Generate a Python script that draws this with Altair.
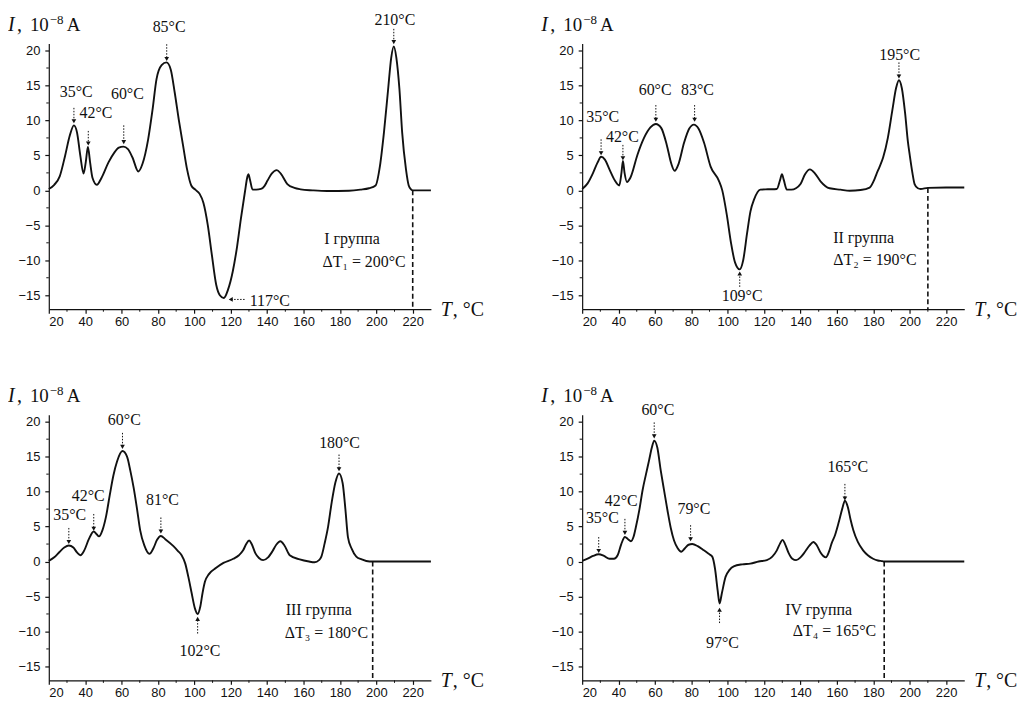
import altair as alt
import pandas as pd

# ---------------- data ----------------
T1 = [20, 23, 26, 29, 31.5, 33.8, 35.5, 37.3, 39.1, 40.3, 41.5, 42.7, 44, 46.4, 49, 52.8, 56, 58.5, 61, 63.5,
      66, 69.2, 71.5, 74.6, 77, 79.2, 82, 84.7, 87, 89.2, 91.5, 93.8, 96, 98.3, 100.5, 102.9, 105, 107.4,
      109.5, 112, 114, 116.2, 118.5, 121.1, 123.5, 125.6, 127.8, 129.2, 129.7, 130.5, 132, 134, 136.6, 138.5,
      140.2, 142.5, 145.3, 147.5, 151.1, 155, 158.4, 165, 173, 185, 191.2, 196, 199.6, 202, 204.2, 206.5,
      208.2, 209.6, 211, 212.7, 214.2, 216.3, 217.8, 219.2, 220, 225, 230]
I1 = [0.2, 0.8, 2.0, 5.0, 7.8, 9.3, 8.3, 5.0, 2.4, 4.0, 6.2, 4.0, 1.8, 0.8, 1.8, 4.0, 5.4, 6.1, 6.25, 5.9,
      4.7, 2.7, 3.8, 7.3, 11.5, 15.9, 17.9, 18.3, 17.3, 14.0, 10.0, 6.4, 3.0, 0.7, 0.1, -0.5, -1.8, -5.0,
      -9.0, -13.5, -15.0, -15.4, -14.2, -11.6, -8.0, -4.0, -0.2, 2.0, 2.3, 1.6, 0.1, 0.1, 0.2, 0.6,
      1.4, 2.4, 2.9, 2.4, 0.9, 0.35, 0.15, 0.0, -0.1, -0.05, 0.1, 0.3, 0.7, 3.5, 8.3, 14.5,
      19.0, 20.6, 19.0, 14.5, 8.3, 3.0, 0.7, 0.1, 0.0, 0.0, 0.0]

T2 = [20, 23, 26, 28.5, 30.4, 32.5, 35, 38, 40.4, 41.6, 42.4, 43.3, 44.6, 46.5, 50.4, 54, 57.5, 60.5, 63.5,
      66.5, 69, 70.8, 73, 76, 78.8, 81.4, 84, 87, 90.6, 95.1, 97, 99.5, 101.8, 104, 106.6, 108.5, 110.6,
      112.5, 114.5, 117.9, 122, 127, 128.8, 129.8, 130.8, 132.5, 135, 137.5, 140, 142.5, 145.2, 148, 151,
      156, 162, 167, 173, 178, 180.5, 181.7, 183.5, 185.4, 188, 190.5, 192.5, 194.1, 195.7, 197.5, 199,
      200, 201.5, 202.7, 204.5, 206, 210, 220, 230]
I2 = [0.2, 1.0, 2.5, 4.0, 4.8, 4.4, 3.0, 1.4, 0.7, 2.5, 4.2, 2.5, 1.2, 1.8, 5.1, 7.5, 9.0, 9.5, 8.9,
      6.5, 3.8, 2.8, 3.8, 6.8, 8.8, 9.4, 8.8, 6.8, 3.4, 1.4, 0.0, -3.5, -7.5, -10.3, -11.3, -10.0, -6.2,
      -3.0, -1.3, 0.1, 0.15, 0.2, 1.5, 2.3, 1.5, 0.1, 0.1, 0.3, 0.9, 2.3, 3.0, 2.4, 1.3,
      0.3, 0.1, -0.05, 0.05, 0.4, 1.5, 2.3, 3.4, 4.7, 7.5, 11.5, 14.6, 15.75, 14.6, 11.0, 7.0,
      5.1, 2.5, 0.9, 0.3, 0.2, 0.35, 0.4, 0.4]

T3 = [20, 23, 26, 28.5, 31, 33.5, 35.5, 37.4, 39.5, 42, 44.7, 46.3, 47.6, 49.5, 51.5, 53.5, 55.5, 57.5,
      60.5, 63, 64.8, 66.6, 68.5, 70.2, 72.5, 75.3, 77.5, 79.5, 81.6, 84, 88.5, 91, 93, 95, 96.7, 98.5,
      100.3, 101.8, 103.3, 104.5, 105.8, 108, 112, 116, 121.4, 124.5, 126.8, 128.5, 130.1, 131.5, 133.5,
      135.5, 137.8, 140.5, 143, 145, 147.3, 149.5, 152.4, 157.9, 163, 166.1, 168.5, 169.8, 171.6, 173.5,
      175.5, 177.5, 179.5, 181.5, 183, 184.4, 186.5, 189, 192, 196.3, 200, 230]
I3 = [0.1, 0.6, 1.4, 2.0, 2.3, 2.0, 1.3, 0.9, 1.6, 3.2, 4.3, 3.9, 3.6, 4.5, 6.5, 9.5, 12.3, 14.3,
      15.8, 15.0, 13.0, 10.6, 7.5, 4.5, 2.3, 1.1, 1.9, 3.1, 3.65, 3.2, 2.2, 1.5, 0.9, -0.3, -2.2, -4.5,
      -6.7, -7.5, -6.4, -4.5, -2.9, -1.8, -0.9, -0.2, 0.4, 0.9, 1.6, 2.5, 3.0, 2.5, 1.2,
      0.5, 0.2, 0.6, 1.5, 2.4, 2.9, 2.3, 0.9, 0.3, 0.0, -0.1, 0.2, 0.7, 2.6, 5.0,
      8.5, 11.3, 12.6, 11.2, 7.5, 3.5, 1.8, 0.7, 0.3, 0.0, 0.0, 0.0]

T4 = [20, 23, 26, 29.1, 32, 35, 37.5, 39.5, 41.5, 43.5, 45.2, 46.8, 48.2, 49.5, 51.5, 53.2, 55, 56.8, 58.3,
      59.6, 61.3, 63.2, 65, 66.9, 68.7, 70.5, 72.5, 74.5, 76.5, 78.5, 80.5, 83.5, 86.9, 89.5, 91.5, 93,
      94.5, 95.5, 96.8, 98.8, 101, 103.3, 108, 112.4, 117, 121.5, 124.5, 127, 128.8, 130.1, 131.5, 133.5,
      135.5, 137.6, 140, 142.5, 145, 147.1, 149, 151, 152.5, 154, 155.5, 157.1, 159, 161, 163, 164.4, 166,
      167.5, 169, 171.5, 174.4, 177, 179.9, 182.5, 185, 186, 230]
I4 = [0.1, 0.4, 0.8, 1.05, 0.8, 0.4, 0.4, 0.9, 2.5, 3.5, 3.2, 2.9, 3.5, 4.9, 7.5, 10.2, 12.4, 14.5, 16.3,
      17.3, 16.3, 13.0, 10.2, 7.3, 4.8, 3.0, 1.9, 1.4, 1.9, 2.4, 2.5, 2.2, 1.6, 1.1, 0.7, -1.0,
      -4.2, -6.0, -4.5, -2.2, -1.2, -0.7, -0.4, -0.3, 0.0, 0.2, 0.7, 1.6, 2.6, 3.1, 2.5, 1.2,
      0.4, 0.2, 0.6, 1.4, 2.3, 2.8, 2.3, 1.3, 0.8, 0.6, 1.3, 2.6, 3.8, 5.6, 7.6, 8.7, 7.8,
      6.0, 4.5, 2.8, 1.6, 0.9, 0.4, 0.15, 0.05, 0.0, 0.0]

# end of measurement (dashed line)
END_T = [220, 210, 198, 186]
END_I = [0.0, 0.35, 0.0, 0.0]

# peak labels (centered): text, x, y(baseline)
LAB_TEXT = [
    ["35°C", "42°C", "60°C", "85°C", "210°C"],
    ["35°C", "42°C", "60°C", "83°C", "195°C", "109°C"],
    ["35°C", "42°C", "60°C", "81°C", "180°C", "102°C"],
    ["35°C", "42°C", "60°C", "79°C", "165°C", "97°C"],
]
LAB_X = [
    [35.1, 45.9, 63.2, 86.1, 210.2],
    [31.3, 42.1, 60.1, 83.4, 194.5, 107.9],
    [31.5, 41.7, 61.5, 82.5, 179.8, 103.1],
    [31.1, 41.5, 61.6, 81.4, 166.0, 97.1],
]
LAB_Y = [
    [13.4, 10.3, 13.1, 22.7, 23.7],
    [9.8, 6.9, 13.7, 13.7, 18.7, -15.8],
    [5.9, 8.7, 19.5, 8.1, 16.3, -13.5],
    [5.5, 8.0, 21.0, 6.75, 12.8, -12.4],
]

# arrows: start (x, y) -> tip (x2, y2)
ARR_X = [
    [33.8, 41.7, 61.2, 84.8, 209.6, 127.6],
    [30.4, 42.4, 60.5, 81.8, 194.1, 106.6],
    [31.0, 44.7, 60.5, 81.6, 179.5, 101.8],
    [29.1, 43.5, 59.6, 79.6, 164.4, 95.5],
]
ARR_Y = [
    [11.8, 8.5, 9.3, 20.9, 23.1, -15.6],
    [7.3, 6.5, 12.2, 12.2, 18.3, -13.8],
    [4.8, 6.8, 18.4, 6.3, 15.3, -10.3],
    [3.5, 6.1, 19.9, 5.2, 11.1, -8.8],
]
ARR_X2 = [
    [33.8, 41.7, 61.2, 84.8, 209.6, 120.0],
    [30.4, 42.4, 60.5, 81.8, 194.1, 106.6],
    [31.0, 44.7, 60.5, 81.6, 179.5, 101.8],
    [29.1, 43.5, 59.6, 79.6, 164.4, 95.5],
]
ARR_Y2 = [
    [9.9, 6.7, 6.9, 18.8, 21.2, -15.6],
    [5.3, 4.6, 10.1, 10.1, 16.3, -11.9],
    [2.8, 4.7, 16.4, 4.3, 13.2, -8.2],
    [1.5, 4.1, 17.9, 3.2, 9.0, -6.9],
]
ARR_DIR = [
    ["triangle-down"] * 5 + ["triangle-left"],
    ["triangle-down"] * 5 + ["triangle-up"],
    ["triangle-down"] * 5 + ["triangle-up"],
    ["triangle-down"] * 5 + ["triangle-up"],
]

# left-aligned texts: group name and ΔT
GROUP_TEXT = [
    ["117°C", "I группа", "ΔT₁ = 200°C"],
    ["II группа", "ΔT₂ = 190°C"],
    ["III группа", "ΔT₃ = 180°C"],
    ["IV группа", "ΔT₄ = 165°C"],
]
GROUP_X = [
    [130.4, 171.4, 170.4],
    [158.0, 158.0],
    [150.2, 149.7],
    [131.6, 135.8],
]
GROUP_Y = [
    [-16.5, -7.6, -10.9],
    [-7.5, -10.7],
    [-7.6, -10.9],
    [-7.6, -10.6],
]

XTICKS = [20, 40, 60, 80, 100, 120, 140, 160, 180, 200, 220]
XMINOR = [30, 50, 70, 90, 110, 130, 150, 170, 190, 210]
YTICKS = [-15, -10, -5, 0, 5, 10, 15, 20]
YMINOR = [-12.5, -7.5, -2.5, 2.5, 7.5, 12.5, 17.5]

# ---------------- chart ----------------
W, H = 384, 267
SERIF = "Liberation Serif"
SANS = "Liberation Sans"
INK = "#111111"


def xs():
    return alt.Scale(domain=[20, 230], nice=False, zero=False)


def ys():
    return alt.Scale(domain=[-17, 21], nice=False, zero=False)


def xax():
    return alt.Axis(values=XTICKS, title=None, format="d", labelPadding=2)


def yax():
    return alt.Axis(values=YTICKS, title=None, format="d", labelPadding=5)


def panel(k, T, I):
    curve = alt.Chart(pd.DataFrame({"T": T, "I": I})).mark_line(
        color=INK, strokeWidth=1.9, interpolate="monotone"
    ).encode(
        x=alt.X("T:Q", scale=xs(), axis=xax()),
        y=alt.Y("I:Q", scale=ys(), axis=yax()),
    )

    dash = alt.Chart(pd.DataFrame({"T": [END_T[k]], "I": [END_I[k]], "I2": [-17]})).mark_rule(
        color=INK, strokeWidth=1.6, strokeDash=[5, 3]
    ).encode(
        x=alt.X("T:Q", scale=xs(), axis=xax()),
        y=alt.Y("I:Q", scale=ys(), axis=yax()),
        y2="I2:Q",
    )

    yminor = alt.Chart(pd.DataFrame({"I": YMINOR})).mark_rule(color=INK, strokeWidth=1).encode(
        y=alt.Y("I:Q", scale=ys(), axis=yax()), x=alt.value(0), x2=alt.value(-2.5)
    )
    xminor = alt.Chart(pd.DataFrame({"T": XMINOR})).mark_rule(color=INK, strokeWidth=1).encode(
        x=alt.X("T:Q", scale=xs(), axis=xax()), y=alt.value(H), y2=alt.value(H + 2.5)
    )

    arr_df = pd.DataFrame({"x": ARR_X[k], "y": ARR_Y[k], "x2": ARR_X2[k], "y2": ARR_Y2[k], "dir": ARR_DIR[k]})
    stems = alt.Chart(arr_df).mark_rule(color=INK, strokeWidth=1, strokeDash=[1.5, 1.5]).encode(
        x=alt.X("x:Q", scale=xs(), axis=xax()), x2="x2:Q",
        y=alt.Y("y:Q", scale=ys(), axis=yax()), y2="y2:Q",
    )
    heads = alt.Chart(arr_df).mark_point(filled=True, color=INK, size=22, opacity=1).encode(
        x=alt.X("x2:Q", scale=xs(), axis=xax()),
        y=alt.Y("y2:Q", scale=ys(), axis=yax()),
        shape=alt.Shape("dir:N", scale=None),
    )

    labels = alt.Chart(pd.DataFrame({"x": LAB_X[k], "y": LAB_Y[k], "t": LAB_TEXT[k]})).mark_text(
        font=SERIF, fontSize=16, color=INK, align="center", baseline="alphabetic"
    ).encode(
        x=alt.X("x:Q", scale=xs(), axis=xax()), y=alt.Y("y:Q", scale=ys(), axis=yax()), text="t:N"
    )
    groups = alt.Chart(pd.DataFrame({"x": GROUP_X[k], "y": GROUP_Y[k], "t": GROUP_TEXT[k]})).mark_text(
        font=SERIF, fontSize=16, color=INK, align="left", baseline="alphabetic"
    ).encode(
        x=alt.X("x:Q", scale=xs(), axis=xax()), y=alt.Y("y:Q", scale=ys(), axis=yax()), text="t:N"
    )

    def piece(txt, px, py, size, style="normal"):
        return alt.Chart(pd.DataFrame({"t": [txt]})).mark_text(
            font=SERIF, fontSize=size, fontStyle=style, color=INK, align="left", baseline="alphabetic"
        ).encode(text="t:N", x=alt.value(px), y=alt.value(py))

    titles = [
        piece("I", -41, -13, 20, "italic"),
        piece(",", -32, -13, 20),
        piece("10", -19, -13, 19),
        piece("−8", 1, -20, 13),
        piece("A", 18, -13, 19),
        piece("T", W + 10, H + 7, 20, "italic"),
        piece(",", W + 22, H + 7, 20),
        piece("°C", W + 32, H + 7, 20),
    ]

    return alt.layer(curve, dash, yminor, xminor, stems, heads, labels, groups, *titles).properties(
        width=W, height=H
    )


panels = [panel(0, T1, I1), panel(1, T2, I2), panel(2, T3, I3), panel(3, T4, I4)]

chart = alt.concat(
    *panels, columns=2, spacing={"row": 106, "column": 152}, bounds="flush"
).properties(
    padding={"left": 0, "top": 2, "right": 0, "bottom": 0},
    background="white",
).configure_view(strokeWidth=0).configure_axis(
    grid=False,
    domainColor=INK,
    domainWidth=1.2,
    tickColor=INK,
    tickWidth=1.2,
    tickSize=4,
    labelFont=SANS,
    labelFontSize=13,
    labelColor=INK,
)

chart.save("out.html", embed_options={"renderer": "svg", "actions": False})
